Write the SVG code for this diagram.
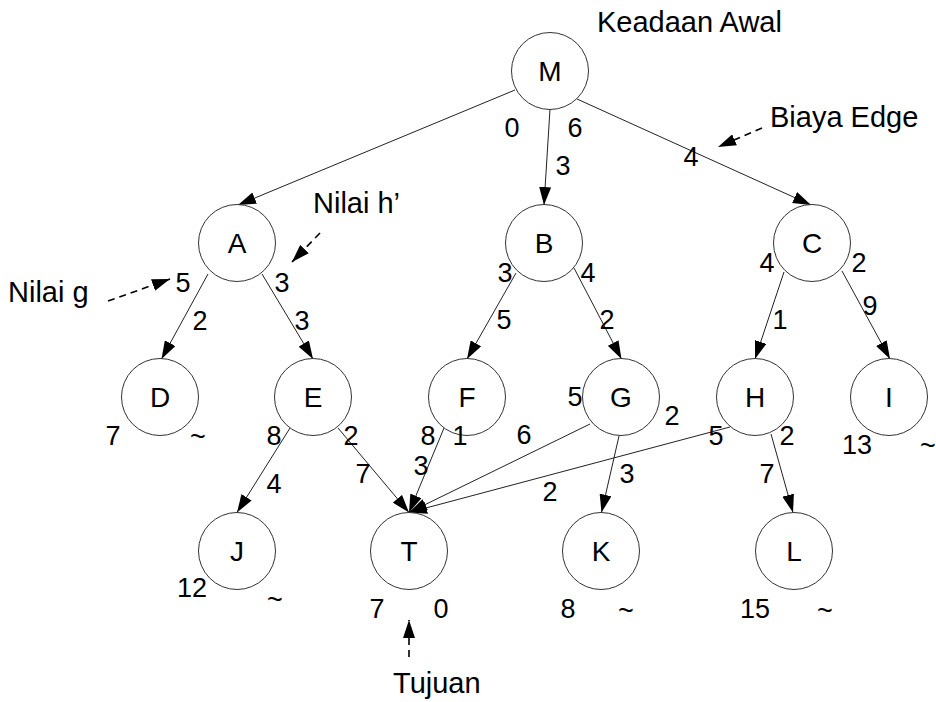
<svg xmlns="http://www.w3.org/2000/svg" width="936" height="702" viewBox="0 0 936 702">
<style>
text{font-family:"Liberation Sans",Arial,sans-serif;fill:#000}
.lbl{font-size:29px}
.n{font-size:27px;text-anchor:middle}
.nl{font-size:28px;text-anchor:middle}
.node circle{fill:#fff;stroke:#333;stroke-width:1}
.edge{stroke:#222;stroke-width:1;fill:none;marker-end:url(#ah)}
.dash{stroke:#000;stroke-width:1.6;fill:none;stroke-dasharray:7 5;marker-end:url(#ah)}
</style>
<defs>
<marker id="ah" markerUnits="userSpaceOnUse" viewBox="0 0 18 12" refX="18" refY="6" markerWidth="18" markerHeight="12" orient="auto">
<path d="M0,0 L18,6 L0,12 z" fill="#000"/>
</marker>
</defs>
<rect width="936" height="702" fill="#fff"/>
<g id="connectors">
<line class="edge" x1="515" y1="90" x2="238" y2="205"/>
<line class="edge" x1="550" y1="109" x2="544" y2="205"/>
<line class="edge" x1="577" y1="99" x2="811" y2="205"/>
<line class="edge" x1="208" y1="274" x2="161.5" y2="359"/>
<line class="edge" x1="262" y1="274" x2="313" y2="359"/>
<line class="edge" x1="516" y1="273" x2="467" y2="359"/>
<line class="edge" x1="574" y1="268" x2="621.5" y2="359"/>
<line class="edge" x1="784" y1="272" x2="755" y2="359"/>
<line class="edge" x1="842" y1="271" x2="890" y2="359"/>
<line class="edge" x1="290" y1="428" x2="237" y2="512.5"/>
<line class="edge" x1="338" y1="428" x2="409" y2="512.5"/>
<line class="edge" x1="444" y1="428" x2="409" y2="512.5"/>
<line class="edge" x1="590" y1="424" x2="409" y2="512.5"/>
<line class="edge" x1="730" y1="427" x2="409" y2="512.5"/>
<line class="edge" x1="619" y1="436" x2="601.5" y2="512.5"/>
<line class="edge" x1="771" y1="434" x2="793" y2="512.5"/>
</g>
<g id="annotations">
<text class="lbl" x="597" y="32">Keadaan Awal</text>
<text class="lbl" x="770" y="127">Biaya Edge</text>
<line class="dash" x1="762" y1="128" x2="718" y2="147"/>
<text class="lbl" x="313" y="213">Nilai h’</text>
<line class="dash" x1="320" y1="233" x2="292" y2="262"/>
<text class="lbl" x="8" y="302">Nilai g</text>
<line class="dash" x1="108" y1="301" x2="170" y2="279"/>
<text class="lbl" x="393" y="693">Tujuan</text>
<line class="dash" x1="409" y1="657" x2="409" y2="620"/>
</g>
<g id="node-M" class="node"><circle cx="550" cy="71" r="38.5"/><text class="nl" x="550" y="81">M</text></g>
<g id="node-A" class="node"><circle cx="237" cy="243" r="38.5"/><text class="nl" x="237" y="253">A</text></g>
<g id="node-B" class="node"><circle cx="544" cy="243" r="38.5"/><text class="nl" x="544" y="253">B</text></g>
<g id="node-C" class="node"><circle cx="812" cy="243" r="38.5"/><text class="nl" x="812" y="253">C</text></g>
<g id="node-D" class="node"><circle cx="160" cy="397" r="38.5"/><text class="nl" x="160" y="407">D</text></g>
<g id="node-E" class="node"><circle cx="313" cy="397" r="38.5"/><text class="nl" x="313" y="407">E</text></g>
<g id="node-F" class="node"><circle cx="467" cy="397" r="38.5"/><text class="nl" x="467" y="407">F</text></g>
<g id="node-G" class="node"><circle cx="621" cy="397" r="38.5"/><text class="nl" x="621" y="407">G</text></g>
<g id="node-H" class="node"><circle cx="755" cy="397" r="38.5"/><text class="nl" x="755" y="407">H</text></g>
<g id="node-I" class="node"><circle cx="889" cy="397" r="38.5"/><text class="nl" x="889" y="407">I</text></g>
<g id="node-J" class="node"><circle cx="237" cy="551" r="38.5"/><text class="nl" x="237" y="561">J</text></g>
<g id="node-T" class="node"><circle cx="409" cy="551" r="38.5"/><text class="nl" x="409" y="561">T</text></g>
<g id="node-K" class="node"><circle cx="601" cy="551" r="38.5"/><text class="nl" x="601" y="561">K</text></g>
<g id="node-L" class="node"><circle cx="794" cy="551" r="38.5"/><text class="nl" x="794" y="561">L</text></g>
<g id="numbers">
<text class="n" x="512" y="137">0</text>
<text class="n" x="575" y="137">6</text>
<text class="n" x="563" y="175">3</text>
<text class="n" x="691" y="166">4</text>
<text class="n" x="183" y="292">5</text>
<text class="n" x="282" y="292">3</text>
<text class="n" x="200" y="330">2</text>
<text class="n" x="302" y="330">3</text>
<text class="n" x="505" y="282">3</text>
<text class="n" x="588" y="282">4</text>
<text class="n" x="504" y="329">5</text>
<text class="n" x="607" y="329">2</text>
<text class="n" x="767" y="272">4</text>
<text class="n" x="859" y="272">2</text>
<text class="n" x="780" y="329">1</text>
<text class="n" x="870" y="315">9</text>
<text class="n" x="113" y="445">7</text>
<text class="n" x="198" y="446">~</text>
<text class="n" x="274" y="445">8</text>
<text class="n" x="351" y="445">2</text>
<text class="n" x="274" y="493">4</text>
<text class="n" x="363" y="483">7</text>
<text class="n" x="428" y="445">8</text>
<text class="n" x="460" y="445">1</text>
<text class="n" x="421" y="475">3</text>
<text class="n" x="575" y="406">5</text>
<text class="n" x="672" y="425">2</text>
<text class="n" x="524" y="444">6</text>
<text class="n" x="550" y="501">2</text>
<text class="n" x="627" y="483">3</text>
<text class="n" x="716" y="445">5</text>
<text class="n" x="787" y="445">2</text>
<text class="n" x="767" y="483">7</text>
<text class="n" x="857" y="454">13</text>
<text class="n" x="928" y="455">~</text>
<text class="n" x="192" y="597">12</text>
<text class="n" x="275" y="609">~</text>
<text class="n" x="377" y="618">7</text>
<text class="n" x="441" y="618">0</text>
<text class="n" x="568" y="618">8</text>
<text class="n" x="626" y="620">~</text>
<text class="n" x="755" y="618">15</text>
<text class="n" x="825" y="620">~</text>
</g>
</svg>
